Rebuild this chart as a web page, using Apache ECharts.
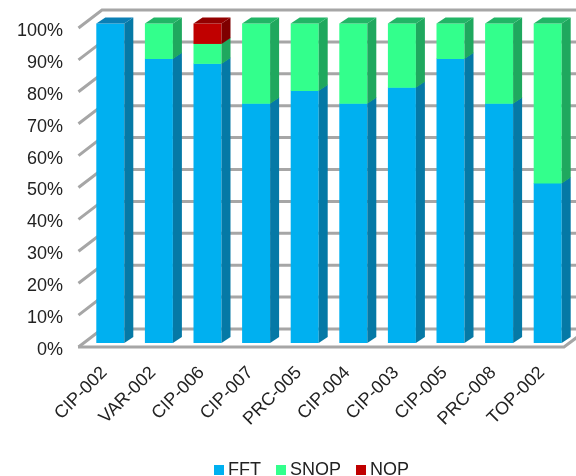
<!DOCTYPE html>
<html>
<head>
<meta charset="utf-8">
<style>html,body{margin:0;padding:0;background:#fff}#main{width:576px;height:476px}</style>
<script src="https://cdn.jsdelivr.net/npm/echarts@6/dist/echarts.min.js"></script>
</head>
<body>
<div id="main"></div>
<script>
var categories = ['CIP-002','VAR-002','CIP-006','CIP-007','PRC-005','CIP-004','CIP-003','CIP-005','PRC-008','TOP-002'];
var fft  = [100, 89, 87.5, 75, 79, 75, 80, 89, 75, 50];
var snop = [0, 11, 6.25, 25, 21, 25, 20, 11, 25, 50];
var nop  = [0, 0, 6.25, 0, 0, 0, 0, 0, 0, 0];
var ticks = [0, 10, 20, 30, 40, 50, 60, 70, 80, 90, 100];

var font = 'Liberation Sans';
var myChart = echarts.init(document.getElementById('main'));

// the grid sits a little low so the tick labels land right, marks move back up by this
var lift = 3;

// stacked rows: [category index, start, end]
function rows(values, below) {
    return values.map(function (v, i) {
        var start = 0;
        below.forEach(function (b) { start += b[i]; });
        return [i, start, start + v];
    });
}

// a 3d bar segment, the top face only on the highest segment
function barItem(front, side, top, above) {
    return function (params, api) {
        var i = api.value(0);
        if (api.value(2) - api.value(1) <= 0) return { type: 'group', children: [] };
        var lo = api.coord([i, api.value(1)]);
        var hi = api.coord([i, api.value(2)]);
        var w = 28, dx = 9, dy = -6;
        var x = lo[0] - w / 2 + 8, y0 = lo[1] - 4 - lift, y1 = hi[1] - 4.5 - lift;
        var children = [
            { type: 'rect', shape: { x: x, y: y1, width: w, height: y0 - y1 }, style: { fill: front } },
            { type: 'polygon', shape: { points: [[x + w, y0], [x + w + dx, y0 + dy], [x + w + dx, y1 + dy], [x + w, y1]] }, style: { fill: side } }
        ];
        var rest = 0;
        above.forEach(function (a) { rest += a[i]; });
        if (rest === 0) {
            children.push({ type: 'polygon', shape: { points: [[x, y1], [x + dx, y1 + dy], [x + w + dx, y1 + dy], [x + w, y1]] }, style: { fill: top } });
        }
        return { type: 'group', children: children };
    };
}

// back wall line + diagonal on the left wall for every tick
function wallItem(params, api) {
    var c = api.coord([0, api.value(1)]);
    var y = c[1] - lift;
    var left = params.coordSys.x, right = left + params.coordSys.width;
    var dx = 24, dy = -18;
    var line = { stroke: '#a6a6a6', lineWidth: 3, fill: null };
    var children = [
        { type: 'polyline', shape: { points: [[left + 0.5, y], [left + dx, y + dy], [right + dx, y + dy]] }, style: line }
    ];
    if (api.value(1) === 0) {
        children.push({ type: 'polyline', shape: { points: [[left, y], [right, y], [right + dx, y + dy]] }, style: line });
    }
    return { type: 'group', children: children };
}

option = {
    animation: false,
    textStyle: { fontFamily: font },
    grid: { left: 78, top: 28 + lift, width: 486, height: 319 },
    legend: {
        data: ['FFT', 'SNOP', 'NOP'],
        top: 461,
        left: 214,
        padding: 0,
        icon: 'rect',
        itemWidth: 10,
        itemHeight: 10,
        itemGap: 15,
        textStyle: { fontFamily: font, fontSize: 18, color: '#222', padding: [0, 0, 0, -1] }
    },
    xAxis: {
        type: 'category',
        data: categories,
        axisLine: { show: false },
        axisTick: { show: false },
        splitLine: { show: false },
        axisLabel: { rotate: 45, interval: 0, margin: 22, padding: [0, -3, 0, 0], fontFamily: font, fontSize: 18, color: '#222' }
    },
    yAxis: {
        type: 'value',
        min: 0,
        max: 100,
        interval: 10,
        axisLine: { show: false },
        axisTick: { show: false },
        splitLine: { show: false },
        axisLabel: { formatter: '{value}%', margin: 15, fontFamily: font, fontSize: 18, color: '#222' }
    },
    series: [
        {
            name: 'wall', type: 'custom', renderItem: wallItem, clip: false, silent: true, z: 1,
            data: ticks.map(function (t) { return [0, t]; })
        },
        {
            name: 'FFT', type: 'custom', itemStyle: { color: '#00b0f0' }, z: 2,
            renderItem: barItem('#00b0f0', '#0579a6', '#0a7fb5', [snop, nop]),
            data: rows(fft, [])
        },
        {
            name: 'SNOP', type: 'custom', itemStyle: { color: '#33ff8c' }, z: 2,
            renderItem: barItem('#33ff8c', '#1fa85e', '#22b566', [nop]),
            data: rows(snop, [fft])
        },
        {
            name: 'NOP', type: 'custom', itemStyle: { color: '#c00000' }, z: 2,
            renderItem: barItem('#c00000', '#7f0000', '#930000', []),
            data: rows(nop, [fft, snop])
        }
    ]
};

myChart.setOption(option);
</script>
</body>
</html>
